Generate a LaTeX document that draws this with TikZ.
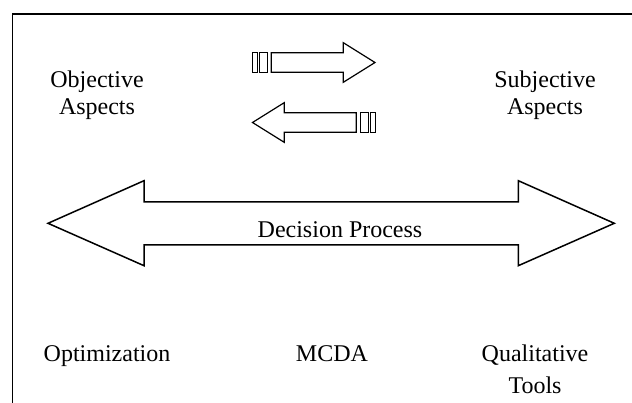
\documentclass[tikz,border=0pt]{standalone}
\usepackage{fontspec}
\setmainfont{Liberation Serif}
\begin{document}
\begin{tikzpicture}[x=1pt,y=-1pt,
  lbl/.style={font=\fontsize{24}{27}\selectfont, inner sep=0pt, anchor=base, align=center},
  bigarrow/.style={draw=black, line width=1.5pt, line join=miter, fill=white},
  smallarrow/.style={draw=black, line width=1.2pt, line join=miter, fill=white},
  frameline/.style={draw=black, line width=1.8pt}]
\useasboundingbox (0,0) rectangle (632,403);
% frame
\draw[frameline] (12.5,403) -- (12.5,14) -- (632,14);
% upper small arrow (pointing right)
\draw[smallarrow] (252.3,52.7) rectangle (257.3,72.3);
\draw[smallarrow] (259.3,52.7) rectangle (267.3,72.3);
\draw[smallarrow] (271.3,52.7) -- (343.3,52.7) -- (343.3,42.7) -- (375,62.5)
  -- (343.3,82.3) -- (343.3,72.3) -- (271.3,72.3) -- cycle;
% lower small arrow (pointing left)
\draw[smallarrow] (370.2,112.7) rectangle (375.2,132.3);
\draw[smallarrow] (360.2,112.7) rectangle (368.2,132.3);
\draw[smallarrow] (356.2,112.7) -- (284.2,112.7) -- (284.2,102.7) -- (252.5,122.5)
  -- (284.2,142.3) -- (284.2,132.3) -- (356.2,132.3) -- cycle;
% big double arrow
\draw[bigarrow] (48,223.3) -- (144,180.7) -- (144,202) -- (518.3,202) -- (518.3,180.7)
  -- (614.3,223.3) -- (518.3,265.7) -- (518.3,245) -- (144,245) -- (144,265.7) -- cycle;
\node[lbl] (dp) at (340,237.7) {Decision Process};
% labels
\node[lbl] (obj) at (97,115) {Objective\\Aspects};
\node[lbl] (subj) at (545,115) {Subjective\\Aspects};
\node[lbl] (opt) at (107,361) {Optimization};
\node[lbl] (mcda) at (332,361) {MCDA};
\node[lbl, font=\fontsize{24}{32}\selectfont] (qual) at (535,393) {Qualitative\\Tools};
\end{tikzpicture}
\end{document}
